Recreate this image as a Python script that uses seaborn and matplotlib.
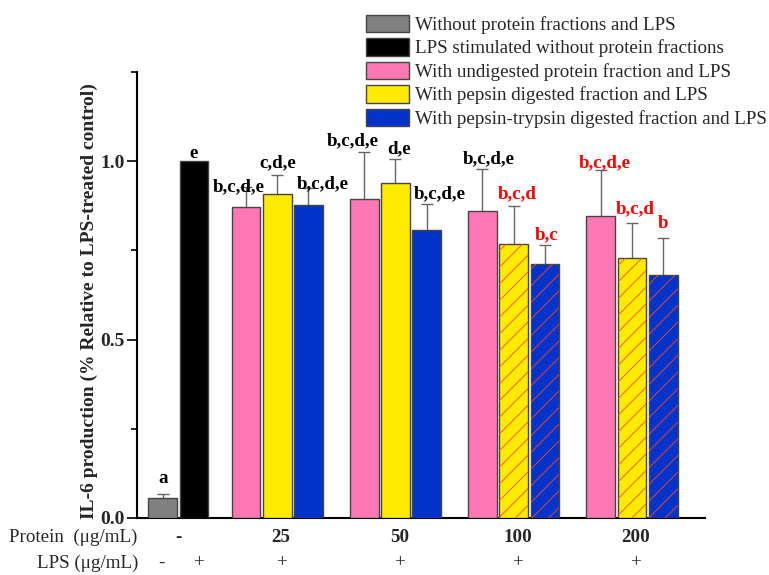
import matplotlib
matplotlib.use("Agg")
import matplotlib.pyplot as plt
import matplotlib.transforms as mtransforms
from matplotlib.patches import Patch, Rectangle
import numpy as np
import pandas as pd
import seaborn as sns

# ---------------- data ----------------
groups = ["Without protein fractions and LPS",
          "LPS stimulated without protein fractions",
          "With undigested protein fraction and LPS",
          "With pepsin digested fraction and LPS",
          "With pepsin-trypsin digested fraction and LPS"]
colors = ["#808080", "#000000", "#ff78b4", "#ffea00", "#0033cc"]

doses = ["25", "50", "100", "200"]

control_values = [0.056, 1.000]
control_errors = [0.011, 0.0]
control_letters = ["a", "e"]

undigested = [0.872, 0.895, 0.860, 0.847]
undigested_err = [0.055, 0.130, 0.118, 0.128]
pepsin = [0.908, 0.940, 0.769, 0.730]
pepsin_err = [0.052, 0.065, 0.106, 0.096]
pepsin_trypsin = [0.876, 0.808, 0.712, 0.680]
pepsin_trypsin_err = [0.049, 0.071, 0.053, 0.105]

undigested_letters = ["b,c,d,e", "b,c,d,e", "b,c,d,e", "b,c,d,e"]
pepsin_letters = ["c,d,e", "d,e", "b,c,d", "b,c,d"]
pepsin_trypsin_letters = ["b,c,d,e", "b,c,d,e", "b,c", "b"]
undigested_red = [False, False, False, True]
pepsin_red = [False, False, True, True]
pepsin_trypsin_red = [False, False, True, True]
pepsin_hatched = [False, False, True, True]
pepsin_trypsin_hatched = [False, False, True, True]

lps_labels = ["-", "+", "+", "+", "+", "+"]

# ---------------- layout ----------------
control_pos = [0.82, 1.82]
group_start = [3.48, 7.26, 11.04, 14.82]
# letter nudges (pixels) in bar order: gray, black, then pink/yellow/blue per dose
letter_dx = [0, 0, -7, 1, 14, -11, 4, 13, 6, 3, 1, 4, 3, 0]
letter_dy = [11, 3, -4, 8, 0, 7, 6, 6, 6, 8, 6, 3, 10, 10]

recs = []
recs.append(dict(pos=control_pos[0], value=control_values[0], err=control_errors[0],
                 group=groups[0], letter=control_letters[0], red=False, hatch=False))
recs.append(dict(pos=control_pos[1], value=control_values[1], err=control_errors[1],
                 group=groups[1], letter=control_letters[1], red=False, hatch=False))
for i, s in enumerate(group_start):
    recs.append(dict(pos=s, value=undigested[i], err=undigested_err[i], group=groups[2],
                     letter=undigested_letters[i], red=undigested_red[i], hatch=False))
    recs.append(dict(pos=s + 1.0, value=pepsin[i], err=pepsin_err[i], group=groups[3],
                     letter=pepsin_letters[i], red=pepsin_red[i], hatch=pepsin_hatched[i]))
    recs.append(dict(pos=s + 2.0, value=pepsin_trypsin[i], err=pepsin_trypsin_err[i],
                     group=groups[4], letter=pepsin_trypsin_letters[i],
                     red=pepsin_trypsin_red[i], hatch=pepsin_trypsin_hatched[i]))
df = pd.DataFrame(recs)

sns.set_theme(style="ticks")
plt.rcParams["font.family"] = ["Liberation Serif", "DejaVu Serif"]
plt.rcParams["hatch.linewidth"] = 0.6

FS = 13.7

fig = plt.figure(figsize=(7.69, 5.75), dpi=100)
ax = fig.add_axes([137 / 769, 1 - 518 / 575, (705 - 137) / 769, (518 - 72) / 575])

sns.barplot(data=df, x="pos", y="value", hue="group", hue_order=groups,
            palette=colors, native_scale=True, dodge=False, width=0.92,
            edgecolor="#444444", linewidth=1.0, saturation=1, errorbar=None,
            legend=False, ax=ax, zorder=3)

# hatch overlays for digested fractions
hatched = df[df["hatch"]]
for p in list(ax.patches):
    cx = p.get_x() + p.get_width() / 2
    if np.any(np.isclose(hatched["pos"].values, cx, atol=0.05)):
        r = Rectangle((p.get_x(), p.get_y()), p.get_width(), p.get_height(),
                      fill=False, hatch="//", edgecolor="#ff4a1a", linewidth=0, zorder=4)
        ax.add_patch(r)

# error bars (below bars so only the upper half shows)
mask = df["err"] > 0
ax.errorbar(df.loc[mask, "pos"], df.loc[mask, "value"], yerr=df.loc[mask, "err"],
            fmt="none", ecolor="#666666", elinewidth=1.0, capsize=4, capthick=1.0, zorder=2)

# significance letters
for i, r in df.iterrows():
    tr = mtransforms.offset_copy(ax.transData, fig=fig, x=letter_dx[i] * 0.72,
                                 y=letter_dy[i] * 0.72, units="points")
    ax.text(r["pos"], r["value"] + r["err"], r["letter"], ha="center", va="baseline",
            fontsize=FS, fontweight="bold", color="#ff0000" if r["red"] else "black",
            zorder=5, transform=tr)

# axes styling
ax.set_xlim(0, 18.15)
ax.set_ylim(0, 1.25)
ax.set_yticks([0.0, 0.5, 1.0])
ax.set_yticklabels(["0.0", "0.5", "1.0"], fontsize=14, fontweight="bold")
ax.set_yticks([0.25, 0.75, 1.25], minor=True)
ax.tick_params(axis="y", which="major", direction="out", length=7, width=1.2, color="black", pad=2)
ax.tick_params(axis="y", which="minor", direction="out", length=4, width=1.2, color="black")
ax.set_xticks([])
ax.set_xlabel("")
ax.set_ylabel("IL-6 production (% Relative to LPS-treated control)", fontsize=14,
              fontweight="bold")
ax.yaxis.set_label_coords(-0.068, 0.487)
for side in ["top", "right"]:
    ax.spines[side].set_visible(False)
for side in ["left", "bottom"]:
    ax.spines[side].set_color("black")
    ax.spines[side].set_linewidth(1.5)

# bottom condition rows
trans = mtransforms.blended_transform_factory(ax.transData, fig.transFigure)
y_prot = 1 - 537 / 575
y_lps = 1 - 563 / 575
fig.text(9 / 769, y_prot, "Protein  (\u03bcg/mL)", ha="left", va="center", fontsize=FS)
fig.text(138 / 769, y_lps, "LPS (\u03bcg/mL)", ha="right", va="center", fontsize=FS)
ax.text(np.mean(control_pos), y_prot, "-", transform=trans, ha="center", va="center",
        fontsize=FS, fontweight="bold")
for s, d in zip(group_start, doses):
    ax.text(s + 1.12, y_prot, d, transform=trans, ha="center", va="center",
            fontsize=FS, fontweight="bold")
lps_x = [control_pos[0] - 0.05, control_pos[1] + 0.15] + [s + 1.12 for s in group_start]
for x, l in zip(lps_x, lps_labels):
    ax.text(x, y_lps, l, transform=trans, ha="center", va="center", fontsize=FS)

# legend
handles = [Patch(facecolor=c, edgecolor="#444444", linewidth=1.0) for c in colors]
fig.legend(handles, groups, loc="upper left", bbox_to_anchor=(366 / 769, 1 - 14.5 / 575),
           frameon=False, fontsize=FS, handlelength=2.26, handleheight=1.05,
           labelspacing=0.22, handletextpad=0.33, borderpad=0, borderaxespad=0)

fig.savefig("out.png", dpi=100)
